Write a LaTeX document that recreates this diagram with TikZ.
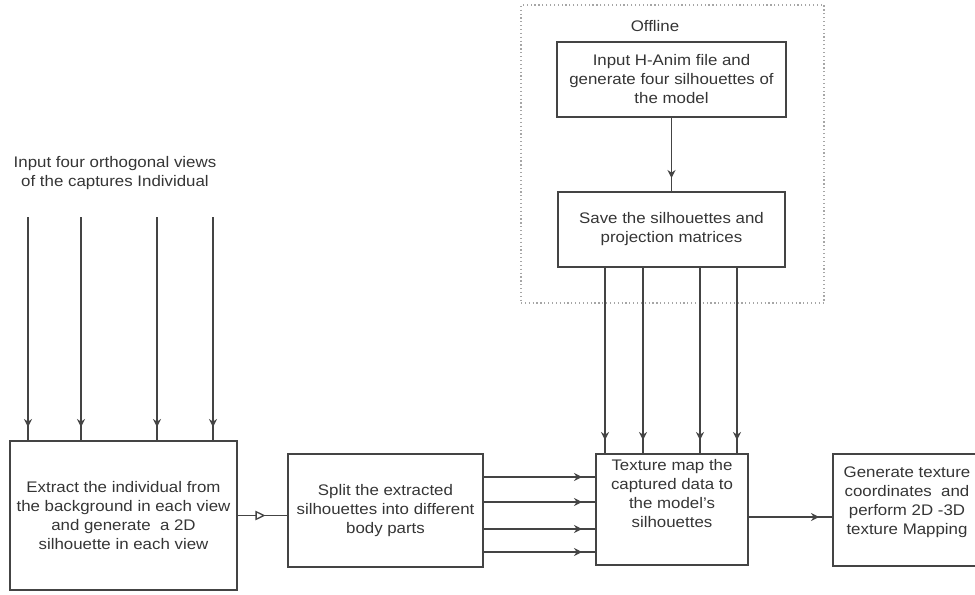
\documentclass[tikz,border=0pt]{standalone}
\usepackage{fontspec}
\setmainfont{Liberation Sans}[FakeStretch=1.1]
\usetikzlibrary{arrows.meta,decorations.markings}
\definecolor{ink}{HTML}{353535}
\definecolor{linec}{HTML}{444444}
\begin{document}
\begin{tikzpicture}[x=0.75pt,y=-0.75pt,
  lbl/.style={align=center, text=ink, font=\fontsize{11.5}{14.25}\selectfont},
  box/.style={lbl, draw=linec, line width=1pt, inner sep=2pt},
  conn/.style={draw=linec, line width=1pt},
  tip/.style={conn, postaction={decorate},
    decoration={markings, mark=at position -10pt with {\arrow[linec]{Stealth[length=6pt,width=6pt]}}}},
  opentip/.style={conn, postaction={decorate},
    decoration={markings, mark=at position 0.56 with {\arrow[linec]{Triangle[length=7.5pt,width=7pt,fill=white]}}}},
  offbox/.style={draw=gray!70, dotted, line width=0.9pt}
]
\useasboundingbox (0,0) rectangle (975,594);

% offline group
\node[offbox, minimum width=227.25pt, minimum height=223.5pt] (offline) at (672.5,154) {};
\node[lbl] (offlbl) at (655,26) {Offline};
\node[box, minimum width=171.75pt, minimum height=56.25pt] (hanim) at (671.5,79.5)
  {Input H-Anim file and\\generate four silhouettes of\\the model};
\node[box, minimum width=170.25pt, minimum height=56.25pt] (save) at (671.5,229.5)
  {Save the silhouettes and\\projection matrices};

% left part
\node[lbl] (views) at (115,173) {Input four orthogonal views\\of the captures Individual};
\node[box, minimum width=170.25pt, minimum height=111.75pt] (extract) at (123.5,515.5)
  {Extract the individual from\\the background in each view\\and generate\ \ a 2D\\silhouette in each view};
\node[box, minimum width=146.25pt, minimum height=84.75pt] (split) at (385.5,510.5)
  {Split the extracted\\silhouettes into different\\body parts};

% texture map
\node[box, minimum width=114pt, minimum height=83.25pt] (texmap) at (672,509.5) {};
\node[lbl] (texlbl) at (672,494) {Texture map the\\captured data to\\the model's\\silhouettes};

% generate
\node[box, minimum width=118.5pt, minimum height=84pt] (gen) at (912,510) {};
\node[lbl] (genlbl) at (907,502) {Generate texture\\coordinates\ \ and\\perform 2D -3D\\texture Mapping};

% connectors
\foreach \i/\x in {1/28,2/81,3/157,4/213} {
  \coordinate (in\i) at (\x,217);
  \draw[tip] (in\i) -- (in\i |- extract.north);
}
\draw[opentip] (extract.east) -- (extract.east -| split.west);
\foreach \i/\y in {1/477,2/502,3/529,4/552} {
  \coordinate (h\i) at (540,\y);
  \draw[tip] (split.east |- h\i) -- (texmap.west |- h\i);
}
\coordinate (tg) at (790,517);
\draw[tip] (texmap.east |- tg) -- (gen.west |- tg);
\draw[tip] (hanim.south) -- (save.north);
\foreach \i/\x in {1/605,2/643,3/700,4/737} {
  \coordinate (d\i) at (\x,360);
  \draw[tip] (save.south -| d\i) -- (texmap.north -| d\i);
}
\end{tikzpicture}
\end{document}
